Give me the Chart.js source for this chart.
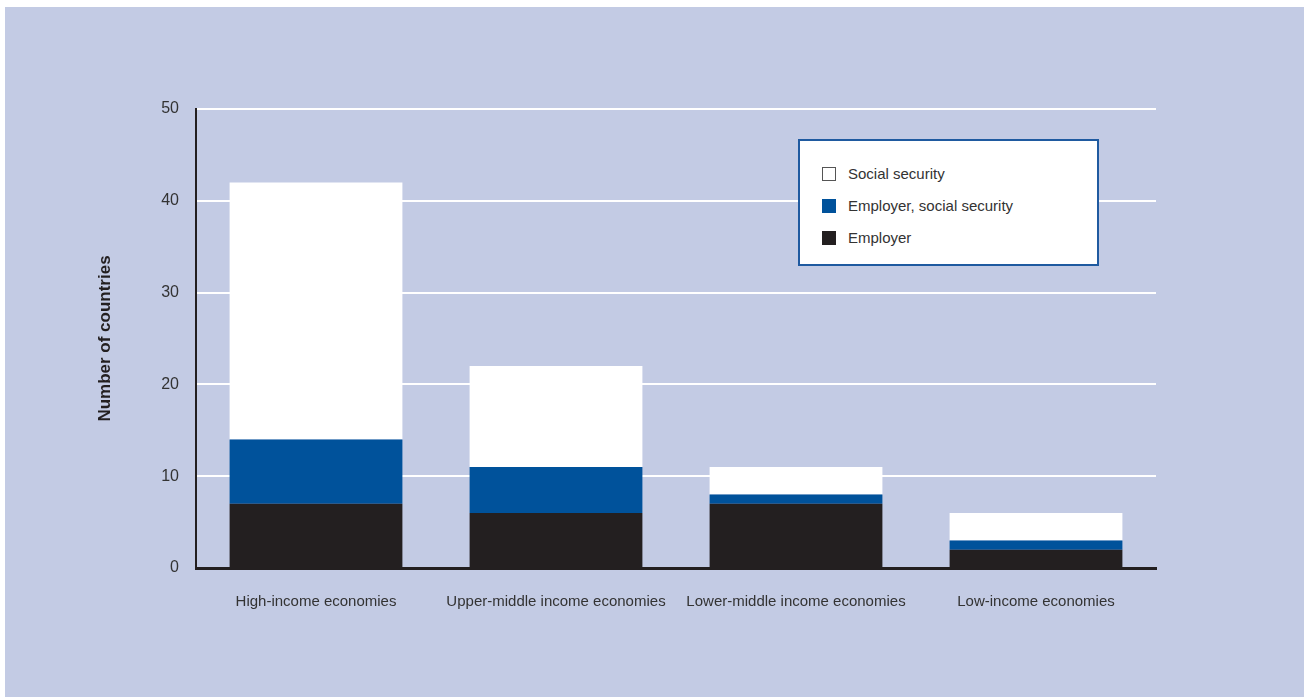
<!DOCTYPE html>
<html>
<head>
<meta charset="utf-8">
<script src="https://cdn.jsdelivr.net/npm/chart.js@4.4.1/dist/chart.umd.min.js"></script>
<style>
  html, body { margin: 0; padding: 0; background: #fff; }
  #panel { position: absolute; left: 5px; top: 7px; width: 1299px; height: 690px; background: #c3cbe4; }
  #wrap { position: absolute; left: 0; top: 0; width: 1311px; height: 697px; }
  #legend {
    position: absolute; left: 798px; top: 139px; width: 297px; height: 123px;
    background: #fff; border: 2px solid #1f5aa0;
    font-family: "Liberation Sans", sans-serif; font-size: 15px; color: #333;
  }
  .item { position: absolute; left: 22px; height: 18px; line-height: 18px; }
  .sw { position: absolute; left: 0; top: 2px; width: 14px; height: 14px; box-sizing: border-box; }
  .lbl { position: absolute; left: 26px; top: 0; white-space: nowrap; }
</style>
</head>
<body>
<div id="panel"></div>
<div id="wrap"><canvas id="c" width="1311" height="697"></canvas></div>
<div id="legend"></div>
<script>
// categories and series (number of countries)
const categories = ['High-income economies', 'Upper-middle income economies', 'Lower-middle income economies', 'Low-income economies'];
const employer = [7, 6, 7, 2];
const employerSocialSecurity = [7, 5, 1, 1];
const socialSecurity = [28, 11, 3, 3];
const yTicks = [0, 10, 20, 30, 40, 50];

const FONT = '"Liberation Sans", sans-serif';
const BLACK = '#231f20', BLUE = '#00529b';

const series = [
  { label: 'Employer', data: employer, color: BLACK, border: BLACK },
  { label: 'Employer, social security', data: employerSocialSecurity, color: BLUE, border: BLUE },
  { label: 'Social security', data: socialSecurity, color: '#ffffff', border: '#555' }
];

// legend box (reverse order, like the original)
const leg = document.getElementById('legend');
series.slice().reverse().forEach((s, i) => {
  const d = document.createElement('div');
  d.className = 'item';
  d.style.top = (24 + i * 32) + 'px';
  d.innerHTML = `<div class="sw" style="background:${s.color};border:1px solid ${s.border}"></div><div class="lbl">${s.label}</div>`;
  leg.appendChild(d);
});

new Chart(document.getElementById('c'), {
  type: 'bar',
  data: {
    labels: categories,
    datasets: series.map(s => ({
      label: s.label, data: s.data, backgroundColor: s.color, borderWidth: 0,
      barPercentage: 0.72, categoryPercentage: 1
    }))
  },
  options: {
    responsive: false,
    animation: false,
    layout: { padding: { left: 95, right: 155, top: 109, bottom: 0 } },
    plugins: { legend: { display: false }, tooltip: { enabled: false } },
    scales: {
      x: {
        stacked: true,
        grid: { display: false, drawTicks: false },
        border: { display: true, color: BLACK, width: 3 },
        ticks: { color: '#333', font: { family: FONT, size: 15 }, padding: 25, maxRotation: 0, autoSkip: false },
        afterFit: s => { s.height = 129; }
      },
      y: {
        stacked: true,
        min: 0, max: 50,
        afterBuildTicks: s => { s.ticks = yTicks.map(v => ({ value: v })); },
        grid: {
          drawTicks: false, lineWidth: 2,
          color: c => c.tick.value === 0 ? 'rgba(0,0,0,0)' : '#ffffff'
        },
        border: { display: true, color: BLACK, width: 2 },
        ticks: { color: '#333', font: { family: FONT, size: 16 }, padding: 17 },
        title: { display: true, text: 'Number of countries', color: BLACK, font: { family: FONT, size: 17, weight: 'bold' }, padding: 0 },
        afterFit: s => { s.width = 101; }
      }
    }
  }
});
</script>
</body>
</html>
